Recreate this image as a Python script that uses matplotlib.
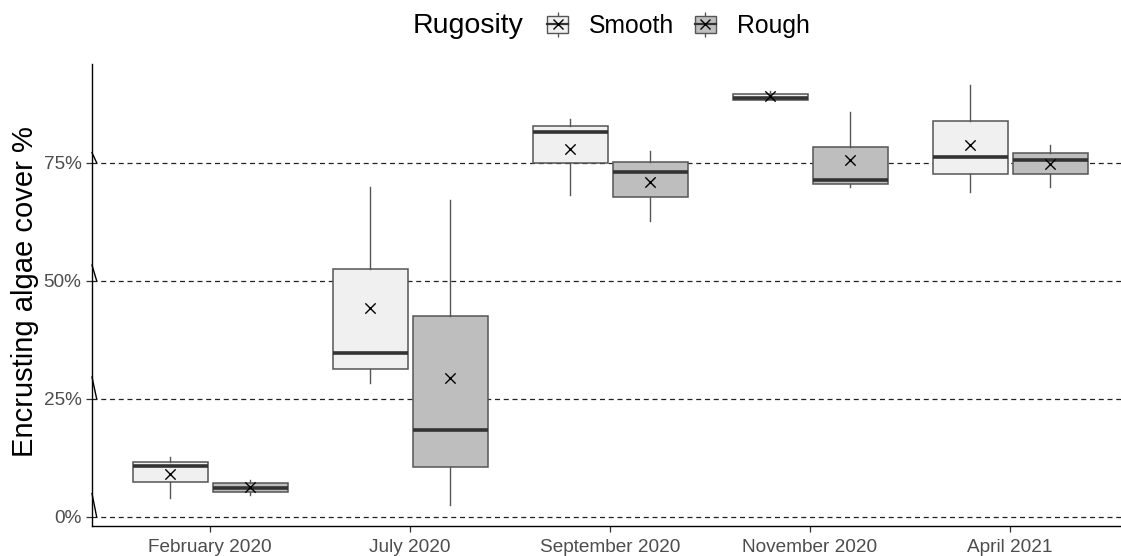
import matplotlib.pyplot as plt
from matplotlib.lines import Line2D
from matplotlib.patches import Patch
from matplotlib.legend_handler import HandlerTuple

plt.rcParams['font.family'] = ['Liberation Sans', 'DejaVu Sans']

months = ["February 2020", "July 2020", "September 2020", "November 2020", "April 2021"]
groups = ["Smooth", "Rough"]
fills = {"Smooth": "#F0F0F0", "Rough": "#BEBEBE"}

# five-number summaries (% cover) and means, per month
smooth_wlo = [4.0, 28.3, 68.2, 88.3, 68.7]
smooth_q1 = [7.4, 31.3, 74.9, 88.3, 72.5]
smooth_med = [10.7, 34.7, 81.6, 88.6, 76.2]
smooth_q3 = [11.6, 52.4, 82.8, 89.5, 83.8]
smooth_whi = [12.6, 69.9, 84.3, 90.2, 91.5]
smooth_mean = [9.0, 44.3, 77.9, 89.1, 78.8]

rough_wlo = [4.6, 2.4, 62.6, 69.8, 69.9]
rough_q1 = [5.2, 10.5, 67.8, 70.5, 72.5]
rough_med = [6.1, 18.4, 73.1, 71.3, 75.5]
rough_q3 = [7.1, 42.6, 75.2, 78.3, 77.0]
rough_whi = [7.8, 67.0, 77.5, 85.7, 78.8]
rough_mean = [6.2, 29.3, 71.0, 75.6, 74.7]

yticks = [0, 25, 50, 75]

data = {
    "Smooth": (smooth_wlo, smooth_q1, smooth_med, smooth_q3, smooth_whi, smooth_mean),
    "Rough": (rough_wlo, rough_q1, rough_med, rough_q3, rough_whi, rough_mean),
}

fig = plt.figure(figsize=(11.21, 5.56), dpi=100)
ax = fig.add_axes([92 / 1121, 30 / 556, 1 - 92 / 1121, 462 / 556])

edge = "#555555"
offsets = {"Smooth": -0.2, "Rough": 0.2}
for g in groups:
    wlo, q1, med, q3, whi, mean = data[g]
    stats = []
    for i in range(len(months)):
        stats.append(dict(whislo=wlo[i], q1=q1[i], med=med[i], q3=q3[i],
                          whishi=whi[i], fliers=[]))
    pos = [i + 1 + offsets[g] for i in range(len(months))]
    ax.bxp(stats, positions=pos, widths=0.375, patch_artist=True,
           showcaps=False, showfliers=False, manage_ticks=False,
           boxprops=dict(facecolor=fills[g], edgecolor=edge, linewidth=1.1),
           medianprops=dict(color="#333333", linewidth=2.6),
           whiskerprops=dict(color="#555555", linewidth=1.0),
           zorder=3)
    ax.scatter(pos, mean, marker="x", color="black", s=55, linewidths=1.0, zorder=5)

# dashed reference lines at the breaks
for t in yticks:
    ax.axhline(t, color="#222222", linestyle=(0, (4, 3)), linewidth=0.9, zorder=1)

ax.set_xlim(0.41, 5.555)
ax.set_ylim(-1.97, 95.9)
ax.set_xticks(range(1, len(months) + 1))
ax.set_xticklabels(months)
ax.set_yticks(yticks)
ax.set_yticklabels([f"{t}%" for t in yticks])
ax.tick_params(axis="both", colors="#333333", labelcolor="#4D4D4D",
               labelsize=13.7, length=4, width=0.9)
ax.tick_params(axis="x", pad=5)

for s in ["top", "right"]:
    ax.spines[s].set_visible(False)
for s in ["left", "bottom"]:
    ax.spines[s].set_color("black")
    ax.spines[s].set_linewidth(1.0)

# slanted marks next to each y break
tr = ax.get_yaxis_transform()
slant = [4.9, 4.6, 3.3, 2.1]
for t, h in zip(yticks, slant):
    ax.plot([0, 0.0045], [t + h, t], transform=tr, color="black",
            linewidth=1.0, clip_on=False, zorder=6)

fig.text(25 / 1121, 1 - 292 / 556, "Encrusting algae cover %",
         rotation=90, ha="center", va="center", fontsize=21)

# legend across the top
fig.text(413 / 1121, 1 - 26 / 556, "Rugosity", ha="left", va="center", fontsize=20.5)
handles = []
for g in groups:
    handles.append((
        Line2D([], [], marker="|", markersize=18, color="#5a5a5a", linestyle="none"),
        Patch(facecolor=fills[g], edgecolor=edge, linewidth=1.0),
        Line2D([], [], color="#333333", linewidth=1.6),
        Line2D([], [], marker="x", markersize=7, color="black", linestyle="none"),
    ))
fig.legend(handles, groups, handler_map={tuple: HandlerTuple(ndivide=1)},
           loc="center left", bbox_to_anchor=(547 / 1121, 1 - 26 / 556),
           ncol=2, frameon=False, fontsize=17.8, handlelength=0.85,
           handleheight=0.7, handletextpad=0.85, columnspacing=0.82,
           borderpad=0, borderaxespad=0)

fig.savefig("out.png", dpi=100)
